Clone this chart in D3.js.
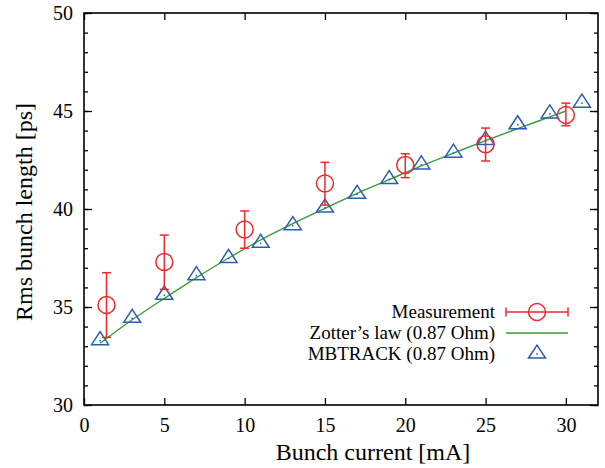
<!DOCTYPE html>
<html>
<head>
<meta charset="utf-8">
<script src="https://cdnjs.cloudflare.com/ajax/libs/d3/7.8.5/d3.min.js"></script>
<style>
  body { margin: 0; background: #fff; }
  svg { display: block; }
</style>
</head>
<body>
<div id="chart"></div>
<script>
// measured bunch length with error bars
var measCurrent = [1.4, 5, 10, 15, 20, 25, 30];
var measLength  = [35.1, 37.3, 38.95, 41.3, 42.25, 43.3, 44.8];
var measLow     = [33.45, 35.9, 38.0, 40.2, 41.6, 42.45, 44.25];
var measHigh    = [36.75, 38.67, 39.9, 42.38, 42.82, 44.13, 45.4];

// Zotter's law curve
var zotterCurrent = [1, 3, 5, 7, 9, 11, 13, 15, 17, 19, 21, 23, 25, 27, 29, 30];
var zotterLength  = [33.15, 34.35, 35.44, 36.5, 37.5, 38.42, 39.25, 40.03, 40.8, 41.5, 42.2, 42.85, 43.49, 44.1, 44.7, 45.0];

// MBTRACK simulation
var mbCurrent = [1, 3, 5, 7, 9, 11, 13, 15, 17, 19, 21, 23, 25, 27, 29, 31];
var mbLength  = [33.28, 34.42, 35.6, 36.6, 37.48, 38.25, 39.15, 40.05, 40.75, 41.5, 42.25, 42.85, 43.5, 44.3, 44.85, 45.4];

var xTicks = [0, 5, 10, 15, 20, 25, 30];
var yTicks = [30, 35, 40, 45, 50];
var legendLabels = ["Measurement", "Zotter\u2019s law (0.87 Ohm)", "MBTRACK (0.87 Ohm)"];

var colors = {red: "#ee2a2e", green: "#3a9b3a", blue: "#2c5db0"};
var fontSerif = "'Liberation Serif', serif";

var width = 605, height = 468;
var margin = {top: 13, right: 7, bottom: 63, left: 84};
var innerWidth = width - margin.left - margin.right;
var innerHeight = height - margin.top - margin.bottom;

var svg = d3.select("#chart").append("svg")
  .attr("width", width)
  .attr("height", height)
  .style("font-family", fontSerif);

var g = svg.append("g")
  .attr("transform", "translate(" + margin.left + "," + margin.top + ")");

var x = d3.scaleLinear().domain([0, 32]).range([0, innerWidth]);
var y = d3.scaleLinear().domain([30, 50]).range([innerHeight, 0]);

// axes: ticks pointing inward, on all four sides
var yMinor = d3.range(30, 51, 1);

function styleAxis(sel) {
  sel.attr("font-family", null).attr("font-size", 20);
  sel.select(".domain").remove();
  sel.selectAll("line").attr("stroke", "#000").attr("stroke-width", 1.3);
  sel.selectAll("text").attr("fill", "#000").style("font-family", fontSerif);
  sel.selectAll("text").filter(function() { return this.textContent === ""; }).remove();
}

g.append("g")
  .attr("transform", "translate(0," + innerHeight + ")")
  .call(d3.axisBottom(x).tickValues(xTicks).tickSizeInner(-7).tickPadding(13).tickFormat(d3.format("d")))
  .call(styleAxis);

g.append("g")
  .call(d3.axisTop(x).tickValues(xTicks).tickSizeInner(-7).tickFormat(""))
  .call(styleAxis);

g.append("g")
  .call(d3.axisLeft(y).tickValues(yMinor).tickSizeInner(-4).tickFormat(""))
  .call(styleAxis);
g.append("g")
  .call(d3.axisLeft(y).tickValues(yTicks).tickSizeInner(-8).tickPadding(11).tickFormat(d3.format("d")))
  .call(styleAxis);

g.append("g")
  .attr("transform", "translate(" + innerWidth + ",0)")
  .call(d3.axisRight(y).tickValues(yMinor).tickSizeInner(-4).tickFormat(""))
  .call(styleAxis);
g.append("g")
  .attr("transform", "translate(" + innerWidth + ",0)")
  .call(d3.axisRight(y).tickValues(yTicks).tickSizeInner(-8).tickFormat(""))
  .call(styleAxis);

// frame
g.append("rect")
  .attr("width", innerWidth)
  .attr("height", innerHeight)
  .attr("fill", "none")
  .attr("stroke", "#000")
  .attr("stroke-width", 1.6);

// axis titles
svg.append("text")
  .attr("x", 373)
  .attr("y", 460)
  .attr("text-anchor", "middle")
  .attr("font-size", 24)
  .text("Bunch current [mA]");

svg.append("text")
  .attr("transform", "translate(32," + 212 + ") rotate(-90)")
  .attr("text-anchor", "middle")
  .attr("font-size", 24)
  .text("Rms bunch length [ps]");

// Zotter's law line
var zotter = zotterCurrent.map(function(d, i) { return {x: d, y: zotterLength[i]}; });
var line = d3.line()
  .x(function(d) { return x(d.x); })
  .y(function(d) { return y(d.y); })
  .curve(d3.curveMonotoneX);

g.append("path")
  .datum(zotter)
  .attr("d", line)
  .attr("fill", "none")
  .attr("stroke", colors.green)
  .attr("stroke-width", 1.4);

// triangle marker (apex up, point slightly below centre)
function trianglePath(cx, cy) {
  return "M" + (cx - 8.5) + "," + (cy + 4) +
         "L" + cx + "," + (cy - 9) +
         "L" + (cx + 8.5) + "," + (cy + 4) + "Z";
}

var mb = mbCurrent.map(function(d, i) { return {x: d, y: mbLength[i]}; });
var tri = g.append("g").selectAll("g")
  .data(mb)
  .enter().append("g");
tri.append("path")
  .attr("d", function(d) { return trianglePath(x(d.x), y(d.y)); })
  .attr("fill", "none")
  .attr("stroke", colors.blue)
  .attr("stroke-width", 1.5);
tri.append("rect")
  .attr("x", function(d) { return x(d.x) - 0.75; })
  .attr("y", function(d) { return y(d.y) - 0.75; })
  .attr("width", 1.5)
  .attr("height", 1.5)
  .attr("fill", colors.blue);

// measurement with error bars
var meas = measCurrent.map(function(d, i) {
  return {x: d, y: measLength[i], lo: measLow[i], hi: measHigh[i]};
});
var capW = 4.5;
var pts = g.append("g").selectAll("g")
  .data(meas)
  .enter().append("g")
  .attr("stroke", colors.red)
  .attr("stroke-width", 1.5)
  .attr("fill", "none");
pts.append("line")
  .attr("x1", function(d) { return x(d.x); })
  .attr("x2", function(d) { return x(d.x); })
  .attr("y1", function(d) { return y(d.lo); })
  .attr("y2", function(d) { return y(d.hi); });
pts.append("line")
  .attr("x1", function(d) { return x(d.x) - capW; })
  .attr("x2", function(d) { return x(d.x) + capW; })
  .attr("y1", function(d) { return y(d.lo); })
  .attr("y2", function(d) { return y(d.lo); });
pts.append("line")
  .attr("x1", function(d) { return x(d.x) - capW; })
  .attr("x2", function(d) { return x(d.x) + capW; })
  .attr("y1", function(d) { return y(d.hi); })
  .attr("y2", function(d) { return y(d.hi); });
pts.append("circle")
  .attr("cx", function(d) { return x(d.x); })
  .attr("cy", function(d) { return y(d.y); })
  .attr("r", 8.5);

// legend
var legend = svg.append("g").attr("font-size", 19);
var rowY = [312, 333, 354];
var sx0 = 506, sx1 = 568, sxm = 537, textX = 495;

legend.selectAll("text")
  .data(legendLabels)
  .enter().append("text")
  .attr("x", textX)
  .attr("y", function(d, i) { return rowY[i] + 6; })
  .attr("text-anchor", "end")
  .text(function(d) { return d; });

var lm = legend.append("g")
  .attr("stroke", colors.red)
  .attr("stroke-width", 1.5)
  .attr("fill", "none");
lm.append("line").attr("x1", sx0).attr("x2", sx1).attr("y1", rowY[0]).attr("y2", rowY[0]);
lm.append("line").attr("x1", sx0).attr("x2", sx0).attr("y1", rowY[0] - capW).attr("y2", rowY[0] + capW);
lm.append("line").attr("x1", sx1).attr("x2", sx1).attr("y1", rowY[0] - capW).attr("y2", rowY[0] + capW);
lm.append("circle").attr("cx", sxm).attr("cy", rowY[0]).attr("r", 8.5);

legend.append("line")
  .attr("x1", sx0).attr("x2", sx1)
  .attr("y1", rowY[1]).attr("y2", rowY[1])
  .attr("stroke", colors.green)
  .attr("stroke-width", 1.4);

legend.append("path")
  .attr("d", trianglePath(sxm, rowY[2]))
  .attr("fill", "none")
  .attr("stroke", colors.blue)
  .attr("stroke-width", 1.5);
legend.append("rect")
  .attr("x", sxm - 0.75).attr("y", rowY[2] - 0.75)
  .attr("width", 1.5).attr("height", 1.5)
  .attr("fill", colors.blue);
</script>
</body>
</html>
